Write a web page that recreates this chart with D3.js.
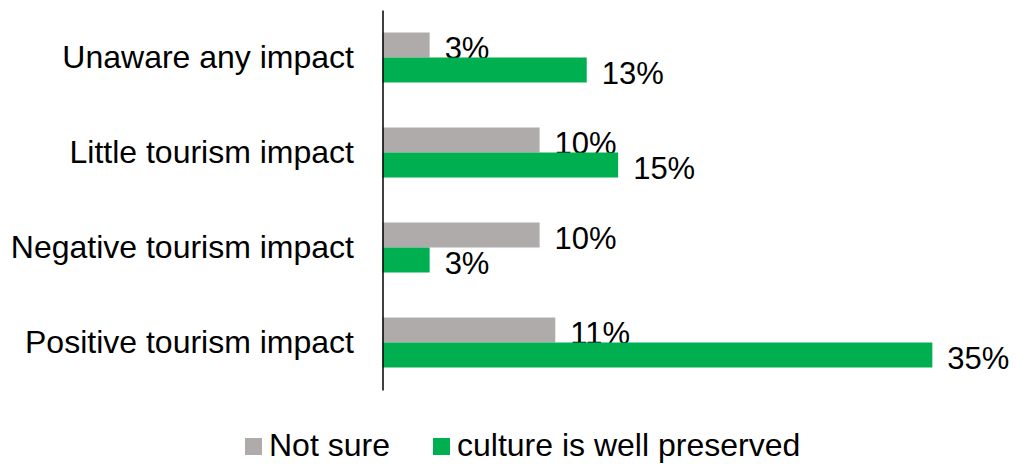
<!DOCTYPE html>
<html>
<head>
<meta charset="utf-8">
<script src="https://cdn.jsdelivr.net/npm/d3@7"></script>
<style>
  html, body { margin: 0; padding: 0; background: #fff; }
  svg { display: block; font-family: "Liberation Sans", Arial, sans-serif; }
</style>
</head>
<body>
<svg id="chart" width="1016" height="464"></svg>
<script>
const categories = ["Unaware any impact", "Little tourism impact", "Negative tourism impact", "Positive tourism impact"];
const seriesNames = ["Not sure", "culture is well preserved"];
const notSure = [3, 10, 10, 11];
const wellPreserved = [13, 15, 3, 35];
const seriesColors = ["#AFABAB", "#00B050"];

const svg = d3.select("#chart");
const axisX = 382.5;

const x = d3.scaleLinear().domain([0, 40]).range([axisX, axisX + 628.4]);
const y = d3.scaleBand().domain(categories).range([10, 390])
  .paddingInner(45 / 95).paddingOuter(45 / 190);
const sub = d3.scaleBand().domain(seriesNames).range([0, y.bandwidth()]);

const seriesValues = [notSure, wellPreserved];

seriesNames.forEach((s, si) => {
  const data = categories.map((c, i) => ({ c, v: seriesValues[si][i] }));
  svg.append("g").selectAll("rect").data(data).join("rect")
    .attr("x", x(0))
    .attr("y", d => y(d.c) + sub(s))
    .attr("width", d => x(d.v) - x(0))
    .attr("height", sub.bandwidth())
    .attr("fill", seriesColors[si]);
  svg.append("g").selectAll("text").data(data).join("text")
    .attr("x", d => x(d.v) + 15)
    .attr("y", d => y(d.c) + sub(s) + sub.bandwidth() + 1)
    .attr("font-size", 31)
    .attr("fill", "#000")
    .text(d => d.v + "%");
});

// category labels
svg.append("g").selectAll("text").data(categories).join("text")
  .attr("x", 354)
  .attr("y", d => y(d) + y.bandwidth() / 2 + 10.5)
  .attr("text-anchor", "end")
  .attr("font-size", 32)
  .attr("fill", "#000")
  .text(d => d);

// axis line
const yAxis = d3.axisLeft(y).tickSize(0).tickFormat("");
const ag = svg.append("g").attr("transform", `translate(${axisX},0)`).call(yAxis);
ag.select(".domain").attr("stroke", "#000").attr("stroke-width", 1.5);

// legend
const legendItems = [
  { name: seriesNames[0], color: seriesColors[0], x: 245 },
  { name: seriesNames[1], color: seriesColors[1], x: 433 }
];
const lg = svg.append("g");
legendItems.forEach(it => {
  lg.append("rect").attr("x", it.x).attr("y", 438).attr("width", 17).attr("height", 17).attr("fill", it.color);
  lg.append("text").attr("x", it.x + 24).attr("y", 456).attr("font-size", 32).attr("fill", "#000").text(it.name);
});
</script>
</body>
</html>
